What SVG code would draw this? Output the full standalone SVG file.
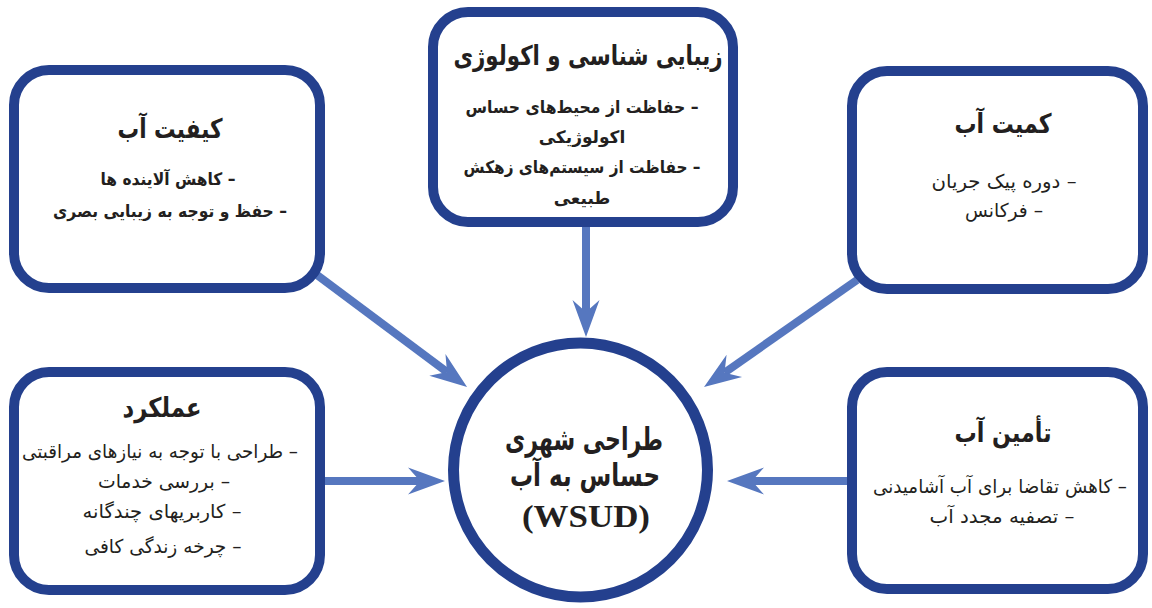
<svg xmlns="http://www.w3.org/2000/svg" width="1152" height="608" viewBox="0 0 1152 608">
<style>
.box{fill:#fff;stroke:#24408e;stroke-width:10}
.conn{stroke:#5677bf;stroke-width:8;fill:none}
.fa{font-family:"DejaVu Sans",sans-serif;fill:#231f20;direction:rtl;text-anchor:middle}
.t{font-size:27px;font-weight:bold}
.b{font-size:17px;font-weight:bold}
.r{font-size:19px}
.c{font-size:31px;font-weight:bold}
.en{font-family:"Liberation Serif",serif;font-weight:bold;font-size:31px;fill:#231f20;text-anchor:middle}
</style>
<defs>
<marker id="ah" viewBox="-14 -15 42 30" markerWidth="42" markerHeight="30" refX="0" refY="0" orient="auto" markerUnits="userSpaceOnUse">
<path d="M25 0 L-12 -13.5 L0 0 L-12 13.5 Z" fill="#5677bf"/>
</marker>
</defs>
<g id="connectors">
<line class="conn" x1="317" y1="275" x2="447" y2="372" marker-end="url(#ah)"/>
<line class="conn" x1="586" y1="225" x2="586" y2="312" marker-end="url(#ah)"/>
<line class="conn" x1="857" y1="280" x2="724.5" y2="372.7" marker-end="url(#ah)"/>
<line class="conn" x1="322" y1="481" x2="420" y2="481" marker-end="url(#ah)"/>
<line class="conn" x1="850" y1="481" x2="752" y2="481" marker-end="url(#ah)"/>
</g>
<g id="node-quality">
<rect class="box" x="14" y="70" width="306" height="218" rx="35"/>
<text class="fa t" x="170" y="138" textLength="105" lengthAdjust="spacingAndGlyphs">کیفیت آب</text>
<text class="fa b" x="168" y="185" textLength="135" lengthAdjust="spacingAndGlyphs">– کاهش آلاینده ها</text>
<text class="fa b" x="170" y="217" textLength="234" lengthAdjust="spacingAndGlyphs">– حفظ و توجه به زیبایی بصری</text>
</g>
<g id="node-ecology">
<rect class="box" x="433" y="12" width="300" height="210" rx="35"/>
<text class="fa t" x="588" y="65" textLength="269" lengthAdjust="spacingAndGlyphs">زیبایی شناسی و اکولوژی</text>
<text class="fa b" x="582" y="113" textLength="233" lengthAdjust="spacingAndGlyphs">– حفاظت از محیط‌های حساس</text>
<text class="fa b" x="582" y="143">اکولوژیکی</text>
<text class="fa b" x="582" y="173" textLength="237" lengthAdjust="spacingAndGlyphs">– حفاظت از سیستم‌های زهکش</text>
<text class="fa b" x="582" y="204">طبیعی</text>
</g>
<g id="node-quantity">
<rect class="box" x="852" y="71" width="291" height="218" rx="35"/>
<text class="fa t" x="1003" y="133" textLength="97" lengthAdjust="spacingAndGlyphs">کمیت آب</text>
<text class="fa r" x="1004" y="188" textLength="145" lengthAdjust="spacingAndGlyphs">– دوره پیک جریان</text>
<text class="fa r" x="1004" y="217" textLength="78" lengthAdjust="spacingAndGlyphs">– فرکانس</text>
</g>
<g id="node-function">
<rect class="box" x="14" y="372" width="306" height="218" rx="35"/>
<text class="fa t" x="162" y="417" textLength="79" lengthAdjust="spacingAndGlyphs">عملکرد</text>
<text class="fa r" x="160" y="458" textLength="276" lengthAdjust="spacingAndGlyphs">– طراحی با توجه به نیازهای مراقبتی</text>
<text class="fa r" x="164" y="488" textLength="132" lengthAdjust="spacingAndGlyphs">– بررسی خدمات</text>
<text class="fa r" x="162" y="518" textLength="159" lengthAdjust="spacingAndGlyphs">– کاربریهای چندگانه</text>
<text class="fa r" x="163" y="553" textLength="157" lengthAdjust="spacingAndGlyphs">– چرخه زندگی کافی</text>
</g>
<g id="node-supply">
<rect class="box" x="852" y="372" width="291" height="217" rx="35"/>
<text class="fa t" x="1003" y="442" textLength="97" lengthAdjust="spacingAndGlyphs">تأمین آب</text>
<text class="fa r" x="1000" y="493" textLength="254" lengthAdjust="spacingAndGlyphs">– کاهش تقاضا برای آب آشامیدنی</text>
<text class="fa r" x="1002" y="523" textLength="145" lengthAdjust="spacingAndGlyphs">– تصفیه مجدد آب</text>
</g>
<g id="node-wsud">
<circle cx="580.5" cy="470" r="127" fill="#fff" stroke="#24408e" stroke-width="11"/>
<text class="fa c" x="584" y="450" textLength="158" lengthAdjust="spacingAndGlyphs">طراحی شهری</text>
<text class="fa c" x="585" y="486" textLength="150" lengthAdjust="spacingAndGlyphs">حساس به آب</text>
<text class="en" x="586" y="527" textLength="128" lengthAdjust="spacingAndGlyphs">(WSUD)</text>
</g>
</svg>
